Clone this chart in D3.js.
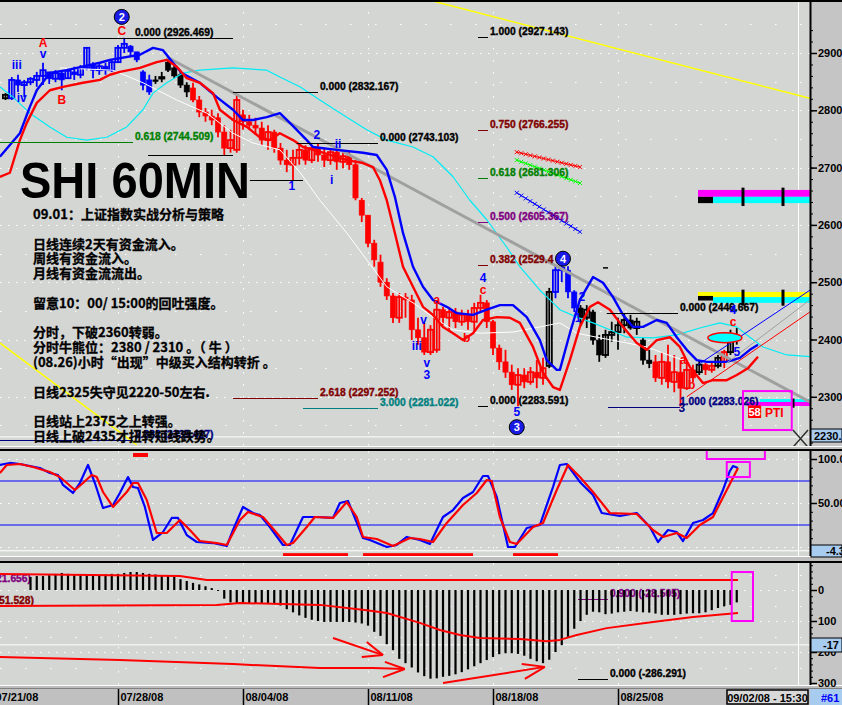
<!DOCTYPE html>
<html><head><meta charset="utf-8">
<script src="https://cdn.jsdelivr.net/npm/d3@7"></script>
<style>
html,body{margin:0;padding:0;background:#bdbdbd;}
svg{display:block;font-family:"Liberation Sans",Arial,sans-serif;}
</style></head><body>
<svg id="c" width="842" height="705"></svg>
<script>
// ---------------- DATA ----------------
// 60-min bars, index 0..117 ; [open, high, low, close]
const candleOHLC = [
[2821,2830,2818,2827],[2821,2858,2818,2853],[2853,2862,2832,2844],[2844,2853,2823,2849],[2849,2858,2844,2855],
[2853,2867,2841,2860],[2860,2883,2844,2870],[2867,2867,2846,2855],[2855,2870,2849,2865],[2865,2870,2835,2853],
[2856,2874,2856,2869],[2867,2876,2853,2862],[2862,2879,2856,2874],[2874,2910,2870,2909],[2879,2884,2856,2870],
[2870,2883,2862,2877],[2877,2883,2862,2870],[2870,2888,2867,2884],[2884,2914,2884,2909],[2909,2926.5,2900,2916],
[2912,2914,2893,2902],[2902,2902,2884,2888],[2867,2870,2835,2844],[2853,2862,2827,2832],[2853,2860,2846,2852],
[2856,2867,2849,2858],[2884,2891,2867,2870],[2874,2879,2856,2860],[2862,2867,2839,2844],[2844,2849,2823,2832],
[2839,2848,2814,2818],[2818,2825,2788,2797],[2797,2804,2780,2790],[2790,2801,2774,2783],[2787,2795,2753,2762],
[2762,2774,2722,2734],[2734,2766,2726,2748],[2731,2827,2726,2818],[2792,2801,2766,2780],[2780,2792,2766,2774],
[2774,2787,2757,2769],[2769,2780,2739,2748],[2748,2774,2731,2762],[2762,2766,2726,2734],[2734,2743,2705,2713],
[2713,2731,2692,2705],[2705,2731,2678,2717],[2717,2743,2705,2731],[2731,2739,2705,2713],[2713,2739,2708,2734],
[2734,2743,2710,2722],[2722,2734,2701,2713],[2713,2734,2705,2727],[2727,2731,2696,2710],[2710,2731,2699,2720],
[2720,2727,2696,2705],[2705,2713,2643,2647],[2643,2647,2605,2617],[2617,2617,2561,2568],[2568,2574,2527,2539],
[2535,2548,2492,2500],[2500,2507,2469,2476],[2476,2481,2429,2438],[2438,2481,2429,2474],[2474,2481,2438,2469],
[2469,2478,2399,2417],[2417,2438,2391,2403],[2403,2429,2373,2378],[2378,2425,2373,2417],[2382,2464,2377,2452],
[2452,2457,2425,2438],[2438,2457,2417,2448],[2448,2455,2420,2431],[2431,2452,2424,2443],[2443,2452,2417,2431],
[2431,2464,2413,2455],[2455,2478,2448,2464],[2464,2469,2420,2431],[2431,2434,2373,2385],[2385,2391,2347,2361],
[2361,2382,2333,2343],[2343,2356,2312,2321],[2321,2350,2283.6,2338],[2338,2350,2315,2326],[2326,2352,2321,2343],
[2343,2364,2315,2333],[2333,2368,2321,2350],[2354,2490,2350,2483],[2483,2530,2472,2521],[2521,2535,2500,2525],
[2521,2528,2472,2483],[2483,2486,2448,2455],[2455,2460,2425,2438],[2438,2460,2420,2452],[2448,2452,2391,2399],
[2399,2408,2361,2373],[2373,2417,2368,2408],[2408,2431,2396,2413],[2413,2438,2382,2425],[2425,2446,2411,2434],
[2434,2443,2417,2420],[2420,2438,2408,2431],[2399,2403,2356,2364],[2364,2382,2350,2358],[2361,2373,2326,2333],
[2333,2378,2321,2361],[2361,2391,2315,2326],[2326,2373,2308,2343],[2343,2364,2283,2315],[2315,2361,2312,2347],
[2347,2356,2326,2333],[2343,2364,2338,2356],[2356,2359,2338,2347],[2347,2361,2342,2354],[2354,2373,2350,2368],
[2361,2382,2350,2378],[2378,2417,2373,2408],[2408,2420,2391,2399]
];
// bar colour state runs (k = neutral/black, b = up/blue, r = down/red)
const candleStateRuns = [["k",1],["b",23],["k",6],["r",57],["k",1],["b",4],["k",12],["r",7],["k",1],["r",2],["k",1],["r",1],["k",2]];

// moving-average style lines: [bar, price]
const blueLine = [[-0.9,2719],[2.3,2760],[3.9,2806],[5.0,2835],[7.1,2865],[9.8,2870],[15.1,2883],[16.7,2888],[21.5,2897],[23.6,2909],[25.2,2905],[26.8,2883],[28.2,2865],[31.1,2848],[33.8,2823],[36.4,2801],[38.0,2783],[39.6,2783],[41.8,2788],[43.9,2795],[45.5,2778],[48.2,2748],[49.2,2736],[53.0,2731],[57.2,2726],[59.4,2722],[61.0,2696],[62.3,2649],[63.6,2586],[65.2,2527],[66.8,2492],[68.4,2469],[70.6,2457],[72.2,2446],[74.8,2443],[77.0,2452],[79.1,2460],[81.2,2460],[83.4,2439],[85.5,2399],[86.6,2364],[88.2,2347],[88.7,2347],[90.3,2411],[91.9,2469],[94.0,2509],[95.6,2499],[97.2,2474],[98.8,2443],[100.4,2422],[102.0,2422],[104.2,2434],[105.8,2429],[107.4,2404],[109.0,2382],[110.6,2364],[112.2,2361],[115.4,2361],[117.5,2368],[119.1,2382],[120.4,2391]];
const redLine = [[-0.9,2684],[0.7,2691],[2.3,2748],[3.4,2778],[5.0,2813],[7.1,2835],[9.2,2841],[12.4,2848],[15.1,2853],[16.7,2862],[18.3,2867],[21.5,2874],[24.2,2884],[25.8,2888],[27.4,2876],[29.0,2856],[31.1,2848],[33.2,2830],[34.3,2801],[36.4,2783],[38.6,2771],[40.7,2753],[42.3,2748],[43.9,2760],[46.0,2748],[47.6,2736],[50.8,2726],[54.6,2713],[57.2,2708],[58.8,2701],[59.9,2678],[61.0,2643],[62.3,2586],[63.6,2527],[65.2,2492],[66.8,2457],[68.4,2443],[70.0,2422],[71.6,2411],[73.2,2399],[74.8,2411],[76.4,2434],[78.6,2439],[80.7,2438],[82.3,2429],[84.4,2387],[86.0,2342],[87.6,2317],[88.7,2312],[90.3,2364],[91.9,2422],[93.5,2457],[94.8,2465],[96.7,2452],[98.8,2422],[101.0,2394],[102.6,2382],[104.2,2399],[106.3,2404],[107.9,2387],[109.5,2352],[111.6,2324],[113.2,2329],[115.4,2329],[117.0,2338],[118.8,2350],[120.4,2370]];
const cyanLine = [[-0.9,2841],[1.2,2823],[3.9,2795],[7.1,2771],[9.8,2753],[13.0,2748],[16.2,2753],[19.4,2771],[22.0,2801],[23.6,2830],[25.8,2848],[28.4,2865],[31.1,2870],[36.4,2874],[41.8,2870],[43.9,2858],[47.1,2841],[50.3,2818],[54.6,2788],[57.8,2766],[61.0,2748],[65.2,2736],[68.4,2719],[71.6,2684],[74.3,2643],[77.0,2609],[80.2,2561],[82.3,2527],[85.5,2486],[87.6,2464],[88.7,2452],[91.4,2439],[94.0,2429],[96.7,2417],[99.4,2404],[103.6,2403],[107.4,2408],[111.1,2420],[114.3,2429],[117.0,2422],[119.1,2404],[121.2,2387],[125.0,2373],[128.7,2370]];
const whiteLine = [[8.7,2874],[17.2,2870],[22.0,2848],[27.4,2818],[32.2,2795],[36.4,2760],[39.6,2743],[43.9,2731],[47.1,2692],[50.3,2643],[54.6,2586],[57.8,2539],[61.0,2492],[65.2,2464],[68.4,2439],[71.6,2417],[75.9,2411],[81.2,2413],[85.5,2422],[88.7,2429],[91.4,2411],[94.6,2404],[99.4,2394],[102.6,2387],[106.8,2370],[109.5,2361]];
const trendGray = [[25.8,2893],[128.7,2291]];
const trendYellow = [[67.9,2992],[128.7,2821]];
const trendYellow2 = [[-0.9,2394],[21.0,2216]];
const channelBlue = [[110.8,2356],[128.7,2486]];
const channelGray = [[115.4,2359],[128.7,2469]];
const channelRed = [[109.0,2300],[128.7,2448]];
const crossLines = [
  {pts:[[81.8,2727],[91.9,2701]], c:"#ff0000"},
  {pts:[[81.8,2713],[91.9,2673]], c:"#00ff00"},
  {pts:[[81.8,2656],[91.9,2588]], c:"#0000ff"}
];

// Fibonacci levels: text, price, bar start, bar end, label bar, colour
const fibLevels = [
  ["0.000 (2926.469)",2926.469,-0.88,36.4,20.7,"#000000"],
  ["0.618 (2744.509)",2744.509,-0.88,20.4,20.7,"#008000"],
  ["",2722,22.8,36.4,null,"#000000"],
  ["",2678,39.1,47.6,null,"#000000"],
  ["0.000 (2832.167)",2832.167,36.4,50.0,50.3,"#000000"],
  ["0.000 (2743.103)",2743.103,46.6,59.6,59.9,"#000000"],
  ["1.000 (2927.143)",2927.143,75.6,77.2,77.5,"#000000"],
  ["0.750 (2766.255)",2766.255,75.6,77.2,77.5,"#800000"],
  ["0.618 (2681.306)",2681.306,75.6,77.2,77.5,"#008000"],
  ["0.500 (2605.367)",2605.367,75.6,77.2,77.5,"#800080"],
  ["0.382 (2529.4",2529.428,75.6,77.2,77.5,"#800000"],
  ["0.000 (2283.591)",2283.591,75.6,77.2,77.5,"#000000"],
  ["2.618 (2297.252)",2297.252,36.4,50.0,50.3,"#800000"],
  ["3.000 (2281.022)",2281.022,47.6,59.6,59.9,"#008080"],
  ["0.000 (2446.667)",2446.667,96.2,107.6,107.9,"#000000"],
  ["1.000 (2283.026)",2283.026,96.4,107.9,107.9,"#000080"],
  ["2.382 (2335.427)",2225,-0.88,20.4,20.7,"#000080"]
];

// wave labels: text, bar, price, colour, circled?
const waveLabels = [
  ["iii",1.8,2879,"#0000ff",0],["iv",2.6,2821,"#0000ff",0],["A",6.0,2917,"#ff0000",0],["v",6.0,2898,"#0000ff",0],
  ["B",9.0,2818,"#ff0000",0],["C",18.6,2938,"#ff0000",0],["2",18.6,2963,"#0000ff",1],
  ["1",45.8,2668,"#0000ff",0],["2",49.8,2757,"#0000ff",0],["ii",53.2,2741,"#0000ff",0],["i",52.2,2678,"#0000ff",0],
  ["v",66.9,2434,"#0000ff",0],["iii",65.8,2389,"#0000ff",0],["v",67.4,2359,"#0000ff",0],["3",67.4,2338,"#0000ff",0],
  ["a",69.0,2469,"#ff0000",0],["b",73.8,2403,"#ff0000",0],["c",76.4,2486,"#ff0000",0],["4",76.4,2507,"#0000ff",0],
  ["5",81.8,2274,"#0000ff",0],["3",81.8,2247,"#0000ff",1],["4",89.2,2541,"#0000ff",1],
  ["2",92.2,2474,"#0000ff",0],["1",91.6,2438,"#0000ff",0],
  ["a",108.4,2364,"#ff0000",0],["b",109.8,2321,"#ff0000",0],["c",116.4,2431,"#ff0000",0],["4",116.4,2452,"#0000ff",0],
  ["5",117.0,2378,"#0000ff",0],["3",108.2,2281,"#000080",0]
];

// colour bands at right: bar0, bar1, price top, price bottom, colour
const bands = [
  [110.8,128.72,2661,2649,"#ff00ff"],[113.2,128.72,2649,2638,"#00ffff"],[110.8,113.2,2649,2638,"#000000"],
  [110.8,128.72,2483,2474,"#ffff00"],[113.2,128.72,2474,2464,"#00ffff"],[110.8,113.2,2476,2468,"#000000"],
  [120.7,128.72,2296,2291,"#00ffff"],[118.6,128.72,2291,2284,"#ff00ff"]
];
const bandTicks = [[118.0,2665,2633],[124.4,2665,2633],[118.0,2487,2459],[124.4,2487,2459],[126.0,2297,2281]];

// stochastic-type oscillator: [bar, value]
const oscBlue = [[-0.9,93.2],[0.7,95.5],[2.3,94.3],[3.9,92.0],[5.5,89.8],[7.1,84.1],[8.4,81.8],[9.2,70.5],[10.8,61.4],[11.9,72.7],[13.2,93.2],[14.3,72.7],[15.6,44.3],[17.2,47.7],[18.3,61.4],[19.6,79.5],[20.4,68.2],[21.2,67.0],[22.3,45.5],[23.6,8.0],[25.2,17.0],[26.6,33.0],[27.6,33.0],[29.0,13.6],[30.6,5.7],[33.2,4.5],[35.4,1.1],[36.4,19.3],[38.0,45.5],[39.6,38.6],[40.7,36.4],[42.3,22.7],[44.4,2.3],[45.5,2.3],[47.6,34.1],[49.8,34.1],[52.4,33.0],[53.5,50.0],[54.8,52.3],[57.2,10.2],[58.3,8.0],[61.0,0],[62.6,2.3],[64.2,11.4],[66.3,8.0],[67.9,3.4],[70.0,34.1],[71.6,42.0],[73.2,55.7],[74.8,62.5],[76.4,80.7],[77.2,80.7],[78.6,56.8],[80.4,0],[81.5,0],[83.4,21.6],[85.5,25.0],[87.6,68.2],[88.7,93.2],[89.8,94.3],[91.9,73.9],[94.0,59.1],[95.4,38.6],[98.3,35.2],[101.0,38.6],[103.1,22.7],[104.4,5.7],[106.0,19.3],[107.4,17.0],[108.4,6.8],[110.0,27.3],[111.6,30.7],[113.2,38.6],[114.8,64.8],[115.9,86.4],[116.4,92.0],[117.2,89.8]];
const oscRed = [[-0.9,84.1],[0.2,93.2],[2.3,94.3],[4.4,90.9],[7.1,85.2],[8.7,79.5],[11.1,64.8],[12.4,72.7],[13.8,81.8],[14.6,79.5],[15.6,62.5],[17.2,45.5],[19.4,62.5],[20.4,72.7],[21.2,72.7],[22.6,53.4],[24.2,15.9],[25.8,15.9],[27.9,30.7],[29.5,19.3],[31.1,6.8],[33.8,4.5],[35.4,2.3],[37.5,30.7],[38.8,39.8],[41.2,34.1],[43.4,15.9],[45.0,2.3],[46.0,4.5],[48.2,22.7],[49.5,34.1],[52.4,33.0],[54.6,51.1],[56.2,34.1],[57.2,11.4],[59.4,9.1],[62.0,1.1],[64.7,10.2],[66.3,9.1],[68.4,5.7],[70.6,27.3],[73.2,47.7],[75.4,61.4],[77.0,76.1],[77.8,75.0],[79.1,34.1],[80.7,5.7],[81.8,3.4],[84.4,22.7],[86.0,27.3],[88.2,64.8],[90.0,93.2],[91.9,79.5],[94.0,62.5],[96.7,38.6],[101.0,37.5],[103.6,19.3],[105.2,11.4],[107.4,15.9],[109.0,10.2],[111.1,25.0],[113.2,34.1],[115.4,64.8],[117.2,89.8]];
const oscLevels = [75, 25];
const oscRedBars = [[44.4,54.8],[57.2,74.8],[81.2,88.4]];

// MACD-type histogram, one value per bar (null = not drawn)
const macdHist = [null,null,null,null,
 42,45,45,48,52,55,52,48,48,50, 50,48,50,52,52,55,58,58,55,52, 50,48,45,42,35,29,23,18,12,6,
 -3,-28,-40,-42,-42,-42,-42,-42,-42,-45, -50,-62,-72,-82,-90,-96,-100,-103,-103,-103,
 -103,-103,-105,-108,-115,-135,-148,-175,-194,-222, -236,-250,-266,-278,-286,-285,-280,-277,-272,-265,
 -256,-246,-236,-226,-216,-207,-204,-204,-206,-212, -222,-230,-236,-225,-200,-178,-151,-125,-100,-80,
 -70,-72,-78,-76,-72,-70,-68,-70,-72,-73, -76,-80,-80,-80,-78,-76,-75,-75,-72,-65, -58,-53,-48,-40];
const macdTop = [[-0.88,52],[27.9,45],[32.2,32],[117.2,32]];
const macdMid = [[-0.88,-52],[33.8,-48],[37.5,-42],[50.3,-48],[57.8,-65],[61.0,-74],[66.3,-106],[69.5,-129],[72.7,-145],[75.9,-155],[82.3,-158],[86.6,-165],[88.7,-161],[91.4,-145],[96.2,-123],[103.6,-103],[110.0,-87],[117.2,-74]];
const macdLow = [[-0.88,-216],[18.3,-226],[36.4,-239],[50.3,-252],[58.8,-252],[63.9,-255]];
const macdArrows = [
  [[52.4,-155],[60.4,-210]],[[57.8,-168],[60.4,-210]],[[57.0,-216],[60.4,-210]],
  [[60.7,-232],[63.9,-255]],[[60.4,-281],[63.9,-255]],
  [[70.0,-300],[86.3,-248]],[[82.6,-239],[86.3,-248]],[[83.1,-287],[86.3,-248]]
];
const macdFib = [["0.900 (-28.505)",-28.505,91.6,96.4,96.7,"#800080"],["0.000 (-286.291)",-286.291,91.6,96.4,96.7,"#000000"]];

// axes
const priceTicks = [2900,2800,2700,2600,2500,2400,2300];
const oscTicks = [100,50];
const oscTickText = ["100.0","50.00"];
const macdTicks = [0,-100,-200,-300];
const dateTickBars = [-2,18,38,58,78,98];
const dateLabels = ["07/21/08","07/28/08","08/04/08","08/11/08","08/18/08","08/25/08"];
const lastPrice = 2230, lastOsc = -4.3, lastMacd = -177;

const noteLines = ["09.01：上证指数实战分析与策略","","日线连续2天有资金流入。","周线有资金流入。","月线有资金流流出。","","留意10：00/ 15:00的回吐强度。","","分时，下破2360转弱。","分时牛熊位：2380 / 2310 。（ 牛 ）","(08.26)小时“出现”中级买入结构转折 。","","日线2325失守见2220-50左右.","","日线站上2375之上转强。","日线上破2435才扭转短线跌势。"];

// ---------------- DRAW ----------------
const svg = d3.select("#c");
const BG = "#d4d6d4", AXBG = "#c6c5c6";
const x = d3.scaleLinear().domain([-0.88,128.72]).range([0,810]);
const yP = d3.scaleLinear().domain([2900,2300]).range([53,396.8]);
const yO = d3.scaleLinear().domain([100,50]).range([459,503]);
const yM = d3.scaleLinear().domain([0,-100]).range([590,621]);
const panels = [{top:2,bot:446,id:"cm"},{top:451,bot:556,id:"co"},{top:563,bot:685,id:"cd"}];

svg.append("rect").attr("width",842).attr("height",705).attr("fill","#bdbdbd");
const defs = svg.append("defs");
panels.forEach(p=>{
  svg.append("rect").attr("x",0).attr("y",p.top).attr("width",810).attr("height",p.bot-p.top).attr("fill",BG);
  svg.append("rect").attr("x",810).attr("y",p.top).attr("width",32).attr("height",p.bot-p.top).attr("fill",AXBG);
  svg.append("line").attr("x1",0).attr("x2",842).attr("y1",p.top-1).attr("y2",p.top-1).attr("stroke","#000").attr("stroke-width",2);
  svg.append("line").attr("x1",0).attr("x2",842).attr("y1",p.bot+0.5).attr("y2",p.bot+0.5).attr("stroke","#fff").attr("stroke-width",1);
  defs.append("clipPath").attr("id",p.id).append("rect").attr("x",0).attr("y",p.top).attr("width",810).attr("height",p.bot-p.top);
});
const gM = svg.append("g").attr("clip-path","url(#cm)");
const gO = svg.append("g").attr("clip-path","url(#co)");
const gD = svg.append("g").attr("clip-path","url(#cd)");

function hgrid(g,y,dash){ g.append("line").attr("x1",0).attr("x2",810).attr("y1",y).attr("y2",y).attr("stroke","#fff").attr("stroke-dasharray",dash); }
// grids
priceTicks.concat([3000]).forEach(v=>hgrid(gM,Math.round(yP(v))+0.5,"1.5,6.5"));
[2950,2850,2750,2650,2550,2450,2350,2250].forEach(v=>hgrid(gM,Math.round(yP(v))+0.5,"1.5,23.5"));
[100,50,0].forEach(v=>hgrid(gO,Math.round(yO(v))+0.5,"1.5,6.5"));
[0,-100,-200].forEach(v=>hgrid(gD,Math.round(yM(v))+0.5,"1.5,6.5"));
[50,-50,-150,-250].forEach(v=>hgrid(gD,Math.round(yM(v))+0.5,"1.5,23.5"));
[[gM,0,446],[gO,451,556],[gD,563,685]].forEach(([g,t,b])=>{
  dateTickBars.forEach(d=>g.append("line").attr("x1",Math.round(x(d))+0.5).attr("x2",Math.round(x(d))+0.5).attr("y1",t).attr("y2",b).attr("stroke","#fff").attr("stroke-dasharray","1.5,10.5"));
  g.append("line").attr("x1",798.5).attr("x2",798.5).attr("y1",t).attr("y2",b).attr("stroke","#fff");
});
// current-value white lines
hgrid(gM,yP(lastPrice),null); hgrid(gO,yO(lastOsc),null); hgrid(gD,yM(lastMacd),null);

const lineP = d3.line().x(d=>x(d[0])).y(d=>yP(d[1]));
const lineO = d3.line().x(d=>x(d[0])).y(d=>yO(d[1]));
const lineD = d3.line().x(d=>x(d[0])).y(d=>yM(d[1]));
function path(g,gen,data,col,w){ return g.append("path").attr("d",gen(data)).attr("fill","none").attr("stroke",col).attr("stroke-width",w).attr("stroke-linejoin","round"); }

// ---- main panel ----
path(gM,lineP,trendYellow,"#ffff00",1.5);
path(gM,lineP,trendYellow2,"#ffff00",1.5);
bands.forEach(b=>gM.append("rect").attr("x",x(b[0])).attr("width",x(b[1])-x(b[0])).attr("y",yP(b[2])).attr("height",yP(b[3])-yP(b[2])).attr("fill",b[4]));
bandTicks.forEach(t=>gM.append("line").attr("x1",x(t[0])).attr("x2",x(t[0])).attr("y1",yP(t[1])).attr("y2",yP(t[2])).attr("stroke","#000").attr("stroke-width",3));

// candles
const states = [];
candleStateRuns.forEach(([s,n])=>{ for(let k=0;k<n;k++) states.push(s); });
const colMap = {k:"#000000", b:"#0000ff", r:"#ff0000"};
const cg = gM.append("g");
candleOHLC.forEach((d,i)=>{
  const [o,h,l,c] = d, col = colMap[states[i]], cx = x(i);
  cg.append("line").attr("x1",cx).attr("x2",cx).attr("y1",yP(h)).attr("y2",yP(l)).attr("stroke",col).attr("stroke-width",1.8);
  const top = yP(Math.max(o,c)), bot = yP(Math.min(o,c));
  const up = c > o;
  cg.append("rect").attr("x",cx-2.6).attr("width",5.2).attr("y",top).attr("height",Math.max(1.5,bot-top))
    .attr("fill",up?"none":col).attr("stroke",col).attr("stroke-width",up?1.8:0.6);
});

path(gM,lineP,whiteLine,"#ffffff",1);
path(gM,lineP,cyanLine,"#00ecf4",1.2);
path(gM,lineP,trendGray,"#a0a0a0",3);
path(gM,lineP,blueLine,"#0000ff",2.4);
path(gM,lineP,redLine,"#ff0000",2.4);
path(gM,lineP,channelBlue,"#0000ff",1);
path(gM,lineP,channelGray,"#a0a0a0",1);
path(gM,lineP,channelRed,"#ff0000",1);

// crossed fib-projection lines
crossLines.forEach(cl=>{
  const [a,b] = cl.pts;
  path(gM,lineP,cl.pts,cl.c,1);
  const n = Math.round((x(b[0])-x(a[0]))/4.5);
  for(let k=0;k<=n;k++){
    const px = x(a[0]) + (x(b[0])-x(a[0]))*k/n, py = yP(a[1]) + (yP(b[1])-yP(a[1]))*k/n;
    gM.append("path").attr("d",`M${px-2},${py-2}L${px+2},${py+2}M${px-2},${py+2}L${px+2},${py-2}`).attr("stroke",cl.c).attr("stroke-width",1);
  }
});

// ellipse marker
gM.append("ellipse").attr("cx",x(115.1)).attr("cy",yP(2403)).attr("rx",17).attr("ry",5).attr("fill","#00ffff").attr("stroke","#ff0000").attr("stroke-width",1.5);

// fib lines & labels
const lblFont = "bold 10.3px 'Liberation Sans', Arial, sans-serif";
function lbl(g,xx,yy,c,t){ return g.append("text").attr("x",xx).attr("y",yy).attr("fill",c).attr("stroke",c).attr("stroke-width",0.35).style("font",lblFont).text(t); }
fibLevels.forEach(f=>{
  const [t,v,b0,b1,lb,c] = f;
  const yy = Math.round(yP(v))+0.5;
  gM.append("line").attr("x1",x(b0)).attr("x2",x(b1)).attr("y1",yy).attr("y2",yy).attr("stroke",c).attr("stroke-width",1);
  if(t) lbl(gM,x(lb),yy-2.5,c,t);
});
gM.append("line").attr("x1",x(95.6)).attr("x2",x(96.4)).attr("y1",yP(2525)).attr("y2",yP(2525)).attr("stroke","#000").attr("stroke-width",1.5);

// wave labels
waveLabels.forEach(w=>{
  const [t,b,v,c,circ] = w, cx = x(b), cy = yP(v);
  if(circ){
    gM.append("circle").attr("cx",cx).attr("cy",cy).attr("r",7.5).attr("fill","#1a1ae6").attr("stroke","#000").attr("stroke-width",1);
    gM.append("text").attr("x",cx).attr("y",cy+4).attr("text-anchor","middle").attr("fill","#fff").style("font","bold 11px 'Liberation Sans', Arial").text(t);
  } else {
    gM.append("text").attr("x",cx).attr("y",cy+4).attr("text-anchor","middle").attr("fill",c).style("font","bold 12px 'Liberation Sans', Arial").text(t);
  }
});

// PTI box
gM.append("rect").attr("x",x(118.0)).attr("y",yP(2310)).attr("width",x(125.8)-x(118.0)).attr("height",yP(2242)-yP(2310)).attr("fill","none").attr("stroke","#ff00ff").attr("stroke-width",2);
gM.append("rect").attr("x",x(118.8)).attr("y",yP(2285)).attr("width",x(120.9)-x(118.8)).attr("height",yP(2263)-yP(2285)).attr("fill","#ff0000");
gM.append("text").attr("x",x(119.85)).attr("y",yP(2274)+4).attr("text-anchor","middle").attr("fill","#fff").style("font","bold 11px 'Liberation Sans', Arial").text("58");
gM.append("text").attr("x",x(121.5)).attr("y",yP(2274)+5).attr("fill","#ff0000").style("font","bold 12px 'Liberation Sans', Arial").text("PTI");
gM.append("path").attr("d",`M${x(126)},${yP(2242)}L${x(128.4)},${yP(2212)}M${x(128.4)},${yP(2242)}L${x(126)},${yP(2212)}`).attr("stroke","#303030").attr("stroke-width",1.5);

// notes & title
noteLines.forEach((t,i)=>{ if(t) gM.append("text").attr("x",33).attr("y",219+i*14.8).attr("fill","#000").attr("stroke","#000").attr("stroke-width",0.3).style("font","bold 13px 'Noto Sans CJK SC', sans-serif").text(t); });
gM.append("text").attr("x",20).attr("y",198).attr("fill","#000").attr("textLength",230).attr("lengthAdjust","spacingAndGlyphs").style("font","bold 50px 'Liberation Sans', Arial, sans-serif").text("SHI 60MIN");

// ---- oscillator panel ----
oscLevels.forEach(v=>gO.append("line").attr("x1",0).attr("x2",810).attr("y1",yO(v)).attr("y2",yO(v)).attr("stroke","#0000ff").attr("stroke-width",1.2));
path(gO,lineO,oscBlue,"#0000ff",2.2);
path(gO,lineO,oscRed,"#ff0000",2.2);
oscRedBars.forEach(b=>gO.append("rect").attr("x",x(b[0])).attr("width",x(b[1])-x(b[0])).attr("y",yO(-7)).attr("height",yO(-11)-yO(-7)).attr("fill","#ff0000"));
gO.append("rect").attr("x",x(20.4)).attr("width",x(22.8)-x(20.4)).attr("y",yO(106.8)).attr("height",yO(102.3)-yO(106.8)).attr("fill","#ff0000");
gO.append("rect").attr("x",x(112.2)).attr("width",x(121.5)-x(112.2)).attr("y",yO(110.2)).attr("height",yO(100)-yO(110.2)).attr("fill","none").attr("stroke","#ff00ff").attr("stroke-width",2);
gO.append("rect").attr("x",x(115.4)).attr("width",x(119.1)-x(115.4)).attr("y",yO(96.6)).attr("height",yO(79.5)-yO(96.6)).attr("fill","none").attr("stroke","#ff00ff").attr("stroke-width",2);

// ---- MACD panel ----
macdFib.forEach(f=>{
  const [t,v,b0,b1,lb,c] = f, yy = Math.round(yM(v))+0.5;
  gD.append("line").attr("x1",x(b0)).attr("x2",x(b1)).attr("y1",yy).attr("y2",yy).attr("stroke",c);
  lbl(gD,x(lb),yy-3,c,t);
});
lbl(gD,0,582,"#800080","(21.656)").attr("text-anchor","end").attr("x",31);
lbl(gD,0,604,"#800000","(-51.528)").attr("text-anchor","end").attr("x",34);
macdHist.forEach((v,i)=>{ if(v===null) return;
  gD.append("rect").attr("x",x(i)-1.1).attr("width",2.2).attr("y",Math.min(yM(0),yM(v))).attr("height",Math.abs(yM(v)-yM(0))).attr("fill","#000");
});
path(gD,lineD,macdTop,"#ff0000",2);
path(gD,lineD,macdMid,"#ff0000",2);
path(gD,lineD,macdLow,"#ff0000",2);
macdArrows.forEach(a=>path(gD,lineD,a,"#ff0000",2));
gD.append("rect").attr("x",x(116.2)).attr("width",x(119.6)-x(116.2)).attr("y",yM(58)).attr("height",yM(-100)-yM(58)).attr("fill","none").attr("stroke","#ff00ff").attr("stroke-width",2);

// ---- right axes ----
function styleAxis(g){
  g.select(".domain").remove();
  g.selectAll(".tick line").attr("stroke","#000").attr("stroke-width",1.5);
  g.selectAll(".tick text").attr("fill","#000").style("font","bold 11px 'Liberation Sans', Arial");
}
const axP = svg.append("g").attr("transform","translate(811,0)").call(d3.axisRight(yP).tickValues(priceTicks).tickSize(6).tickPadding(1).tickFormat(d=>d+"."));
styleAxis(axP);
const axPm = svg.append("g").attr("transform","translate(811,0)").call(d3.axisRight(yP).tickValues(d3.range(2940,2219,-20)).tickSize(2).tickFormat(""));
styleAxis(axPm); axPm.selectAll(".tick line").attr("stroke-width",1);
const axO = svg.append("g").attr("transform","translate(811,0)").call(d3.axisRight(yO).tickValues(oscTicks).tickSize(6).tickPadding(1).tickFormat((d,i)=>oscTickText[i]));
styleAxis(axO);
const axOm = svg.append("g").attr("transform","translate(811,0)").call(d3.axisRight(yO).tickValues(d3.range(100,-10,-10)).tickSize(2).tickFormat(""));
styleAxis(axOm); axOm.selectAll(".tick line").attr("stroke-width",1);
const axD = svg.append("g").attr("transform","translate(811,0)").call(d3.axisRight(yM).tickValues(macdTicks).tickSize(6).tickPadding(1).tickFormat(d=>Math.abs(d)));
styleAxis(axD);
const axDm = svg.append("g").attr("transform","translate(811,0)").call(d3.axisRight(yM).tickValues(d3.range(80,-320,-20)).tickSize(2).tickFormat(""));
styleAxis(axDm); axDm.selectAll(".tick line").attr("stroke-width",1);
[[0,446],[451,556],[563,685]].forEach(([t,b])=>svg.append("line").attr("x1",810.5).attr("x2",810.5).attr("y1",t).attr("y2",b).attr("stroke","#000").attr("stroke-width",2));

function valBox(y0,y1,txt,tx){
  svg.append("rect").attr("x",811).attr("y",y0).attr("width",31).attr("height",y1-y0).attr("fill","#a8cbf0").attr("stroke","#000").attr("stroke-width",1);
  svg.append("text").attr("x",tx).attr("y",(y0+y1)/2+4).attr("fill","#000").style("font","bold 11px 'Liberation Sans', Arial").text(txt);
}
valBox(429,442,lastPrice+".",814);
valBox(545,557,String(lastOsc),826);
valBox(638,652,String(lastMacd).slice(0,3),823);

// ---- x axis ----
svg.append("rect").attr("x",0).attr("y",688).attr("width",842).attr("height",17).attr("fill","#c0c0c0");
svg.append("line").attr("x1",0).attr("x2",842).attr("y1",688.5).attr("y2",688.5).attr("stroke","#808080");
const axX = svg.append("g").attr("transform","translate(0,689)").call(d3.axisBottom(x).tickValues(dateTickBars).tickSize(16).tickFormat((d,i)=>dateLabels[i]));
axX.select(".domain").remove();
axX.selectAll(".tick line").attr("stroke","#000").attr("stroke-width",1.5);
axX.selectAll(".tick text").attr("x",2).attr("y",4).attr("dy","0.71em").attr("text-anchor","start").attr("fill","#000").style("font","bold 11px 'Liberation Sans', Arial");
svg.append("rect").attr("x",727).attr("y",690).attr("width",81).attr("height",14).attr("fill","#d8d8d8").attr("stroke","#000").attr("stroke-width",1.5);
svg.append("text").attr("x",767.5).attr("y",701.5).attr("text-anchor","middle").attr("fill","#000").style("font","bold 11px 'Liberation Sans', Arial").text("09/02/08 - 15:30");
svg.append("rect").attr("x",810).attr("y",689).attr("width",32).attr("height",16).attr("fill","#a8cbf0");
svg.append("text").attr("x",821).attr("y",701.5).attr("fill","#0000ff").style("font","bold 11px 'Liberation Sans', Arial").text("#61");
</script>
</body></html>
